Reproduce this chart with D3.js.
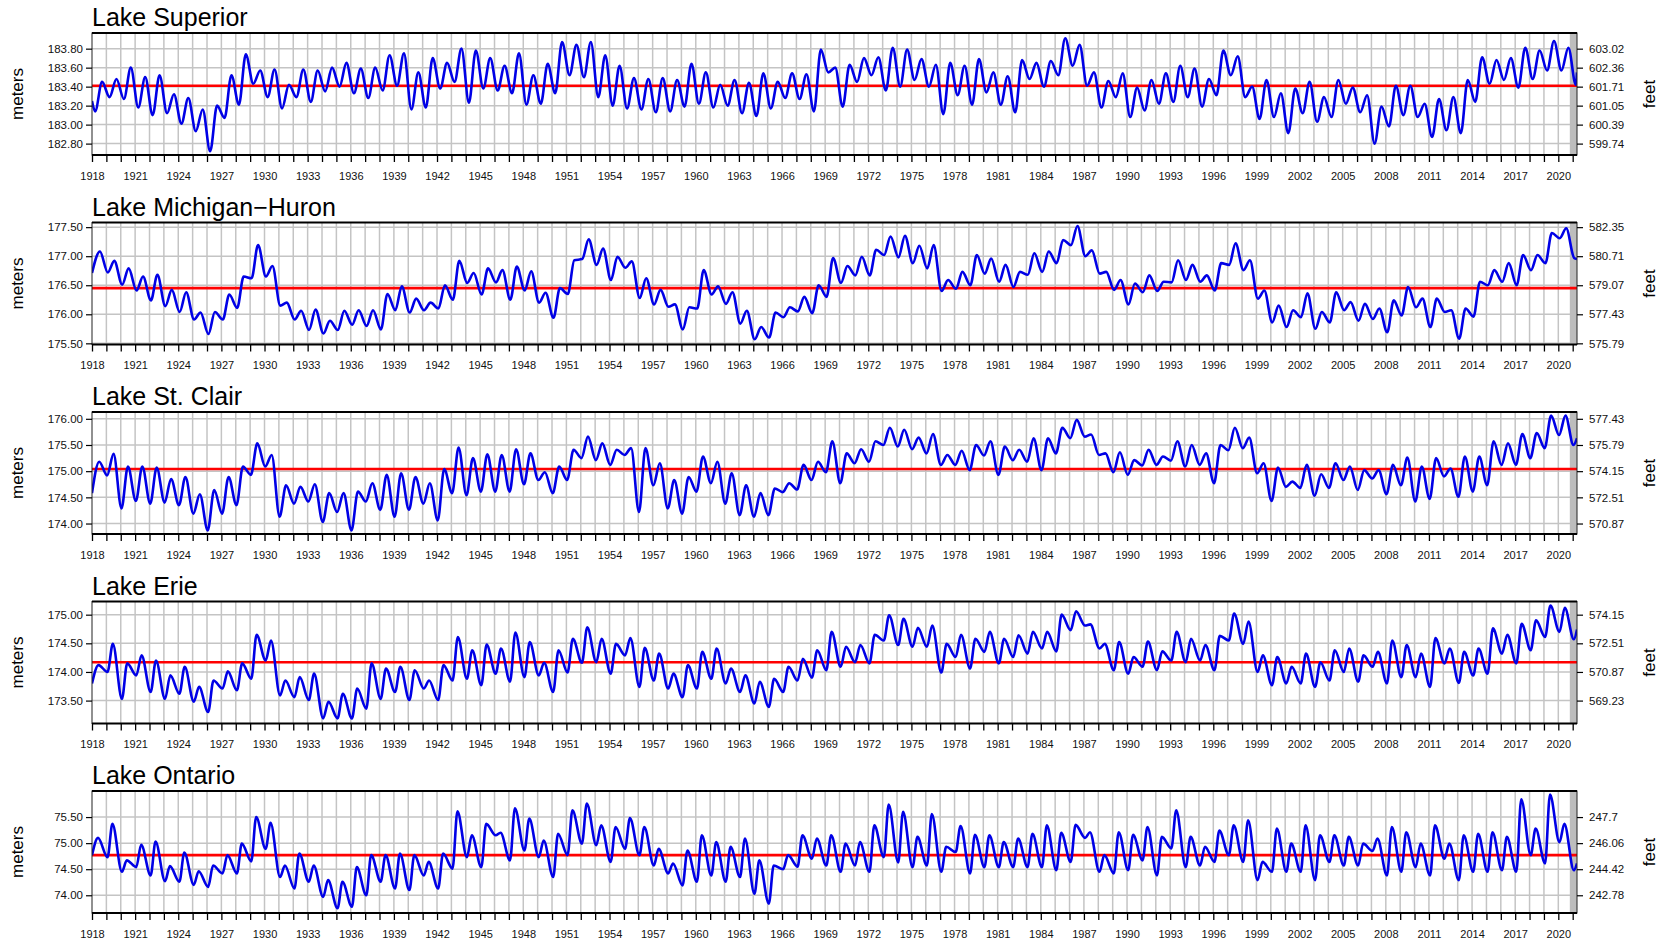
<!DOCTYPE html>
<html><head><meta charset="utf-8">
<script src="https://cdn.jsdelivr.net/npm/d3@7"></script>
<style>
html,body{margin:0;padding:0;background:#fff;}
svg{display:block;font-family:"Liberation Sans",Arial,Helvetica,sans-serif;}
</style></head><body>
<svg id="chart" width="1662" height="942"></svg>
<script>
// ---------- DATA (metres; one seasonal low and one seasonal high per year) ----------
const lakeNames = ["Lake Superior", "Lake Michigan\u2212Huron", "Lake St. Clair", "Lake Erie", "Lake Ontario"];
const yearLabels = [1918,1921,1924,1927,1930,1933,1936,1939,1942,1945,1948,1951,1954,1957,1960,1963,1966,1969,1972,1975,1978,1981,1984,1987,1990,1993,1996,1999,2002,2005,2008,2011,2014,2017,2020];
const longTermMean = [183.41, 176.45, 175.04, 174.17, 74.77];
const firstLevel = [183.25, null, null, null, null];
const lastLevel = [183.55, 176.95, 175.63, 174.74, 74.61];

const superiorLow = [183.14,183.29,183.27,183.18,183.10,183.12,183.01,182.93,182.72,183.07,
183.21,183.43,183.29,183.17,183.29,183.24,183.35,183.40,183.33,183.28,
183.36,183.41,183.16,183.18,183.38,183.45,183.23,183.38,183.36,183.33,
183.21,183.22,183.33,183.52,183.50,183.29,183.20,183.17,183.16,183.13,
183.14,183.19,183.22,183.18,183.20,183.12,183.09,183.17,183.28,183.27,
183.14,183.55,183.19,183.45,183.52,183.36,183.40,183.47,183.40,183.11,
183.31,183.21,183.34,183.21,183.13,183.48,183.40,183.52,183.62,183.41,
183.18,183.29,183.08,183.15,183.22,183.24,183.29,183.19,183.31,183.52,
183.29,183.06,183.08,182.91,183.12,183.03,183.08,183.22,183.13,182.80,
182.98,183.10,183.08,182.87,182.94,182.91,183.24,183.43,183.47,183.39,
183.48,183.57,183.57,183.42];
const superiorHigh = [183.45,183.48,183.60,183.50,183.52,183.32,183.28,183.16,183.20,183.52,
183.74,183.57,183.58,183.42,183.58,183.57,183.60,183.65,183.59,183.60,
183.73,183.75,183.55,183.70,183.65,183.80,183.78,183.70,183.62,183.75,
183.52,183.64,183.87,183.84,183.87,183.73,183.62,183.49,183.48,183.49,
183.47,183.64,183.55,183.42,183.47,183.44,183.54,183.45,183.54,183.53,
183.79,183.60,183.63,183.70,183.71,183.81,183.79,183.69,183.63,183.65,
183.62,183.69,183.55,183.51,183.68,183.65,183.67,183.91,183.84,183.55,
183.46,183.54,183.39,183.47,183.54,183.62,183.59,183.48,183.78,183.72,
183.40,183.47,183.33,183.38,183.45,183.29,183.47,183.39,183.31,183.19,
183.41,183.41,183.22,183.27,183.29,183.47,183.71,183.68,183.70,183.81,
183.78,183.88,183.81];

const michHuronLow = [176.71,176.72,176.51,176.41,176.24,176.14,176.04,175.91,175.66,175.91,
176.11,176.62,176.65,176.15,175.91,175.73,175.67,175.73,175.82,175.80,
175.74,176.07,176.03,176.07,176.10,176.25,176.54,176.34,176.55,176.25,
176.41,176.20,175.94,176.35,176.95,176.85,176.59,176.80,176.28,176.17,
176.13,175.74,176.10,176.34,176.18,175.84,175.57,175.60,175.95,176.05,
176.02,176.30,176.54,176.67,176.67,177.02,176.98,176.88,176.79,176.40,
176.44,176.50,176.70,176.56,176.47,176.68,176.73,176.88,177.19,177.00,
176.70,176.42,176.17,176.38,176.40,176.55,176.59,176.56,176.41,176.85,
176.76,176.27,175.86,175.78,175.95,175.75,175.86,176.07,175.89,175.92,
175.69,175.98,176.12,175.78,176.04,175.58,175.96,176.50,176.56,176.50,
176.76,176.88,177.31,176.97];
const michHuronHigh = [177.08,176.92,176.79,176.65,176.68,176.42,176.38,176.03,176.04,176.34,
176.65,177.19,176.83,176.20,176.06,176.08,175.89,176.06,176.07,176.07,
176.35,176.48,176.27,176.20,176.50,176.92,176.71,176.79,176.76,176.82,
176.74,176.37,176.45,176.93,177.29,177.13,176.99,176.91,176.62,176.42,
176.17,176.12,176.76,176.48,176.38,176.06,175.78,176.03,176.12,176.30,
176.50,176.97,176.83,176.99,177.11,177.34,177.35,177.18,177.19,176.59,
176.73,177.02,176.96,176.85,176.73,177.05,177.08,177.28,177.52,177.10,
176.73,176.59,176.53,176.67,176.56,176.93,176.85,176.67,176.88,177.22,
176.93,176.41,176.15,176.07,176.36,176.04,176.38,176.21,176.18,176.10,
176.24,176.47,176.27,176.27,176.07,176.10,176.56,176.76,176.88,177.02,
177.02,177.40,177.48];

const stClairLow = [174.58,174.92,174.29,174.43,174.38,174.40,174.35,174.19,173.87,174.19,
174.35,174.93,175.09,174.13,174.38,174.42,174.03,174.22,173.87,174.42,
174.26,174.13,174.26,174.38,174.06,174.58,174.54,174.61,174.61,174.61,
174.75,174.83,174.58,174.83,175.25,175.21,175.12,175.31,174.22,174.73,
174.29,174.19,174.61,174.77,174.38,174.16,174.13,174.16,174.60,174.65,
174.83,174.98,174.77,175.15,175.18,175.50,175.47,175.42,175.34,175.12,
175.12,175.02,175.30,174.93,175.21,175.18,175.02,175.34,175.63,175.66,
175.31,174.98,174.93,175.11,175.12,175.20,175.09,175.12,174.77,175.40,
175.44,174.96,174.43,174.70,174.68,174.53,174.68,174.83,174.64,174.86,
174.56,174.73,174.42,174.47,174.90,174.51,174.61,174.73,175.12,175.12,
175.25,175.44,175.69,175.50];
const stClairHigh = [175.18,175.33,175.09,175.09,175.07,174.85,174.89,174.56,174.64,174.89,
175.09,175.53,175.31,174.73,174.70,174.75,174.58,174.58,174.61,174.77,
174.93,174.96,174.89,174.77,175.04,175.45,175.25,175.32,175.31,175.42,
175.34,174.98,175.09,175.41,175.66,175.53,175.41,175.44,175.44,175.15,
174.83,174.89,175.28,175.18,174.96,174.73,174.58,174.67,174.77,175.12,
175.18,175.57,175.34,175.42,175.57,175.83,175.79,175.64,175.71,175.31,
175.39,175.50,175.57,175.47,175.41,175.63,175.63,175.83,175.98,175.70,
175.34,175.36,175.21,175.41,175.28,175.57,175.50,175.34,175.50,175.83,
175.64,175.15,175.07,174.80,175.12,174.94,175.15,175.09,175.02,175.02,
175.12,175.26,175.09,175.25,175.05,175.28,175.28,175.57,175.53,175.71,
175.73,176.06,176.06];

const erieLow = [173.80,174.00,173.53,173.94,173.65,173.53,173.62,173.48,173.30,173.71,
173.68,173.88,174.20,173.59,173.56,173.51,173.19,173.19,173.19,173.36,
173.53,173.65,173.51,173.71,173.51,173.85,173.88,173.77,173.97,173.83,
173.91,173.94,173.65,173.99,174.16,174.17,173.97,174.29,173.74,173.85,
173.71,173.56,173.71,173.88,173.80,173.65,173.45,173.39,173.65,173.85,
173.90,174.03,174.09,174.17,174.15,174.55,174.47,174.44,174.44,173.99,
174.26,174.06,174.35,174.15,174.26,174.32,174.41,174.36,174.73,174.81,
174.41,174.03,173.97,174.09,174.03,174.20,174.17,174.20,174.03,174.55,
174.49,174.00,173.77,173.80,173.80,173.74,173.85,174.00,173.83,174.09,
173.80,173.91,173.91,173.74,174.15,173.81,173.94,173.97,174.32,174.15,
174.38,174.61,174.70,174.57];
const erieHigh = [174.12,174.49,174.15,174.29,174.20,173.94,174.09,173.74,173.85,174.01,
174.15,174.65,174.55,173.85,173.91,173.97,173.48,173.62,173.71,174.15,
174.06,174.09,174.03,173.85,174.12,174.61,174.38,174.48,174.41,174.69,
174.52,174.16,174.38,174.58,174.78,174.58,174.49,174.59,174.42,174.32,
173.97,174.12,174.35,174.41,174.06,173.94,173.83,173.88,174.09,174.23,
174.38,174.70,174.44,174.47,174.65,174.99,174.93,174.77,174.81,174.49,
174.65,174.58,174.70,174.58,174.64,174.70,174.70,175.00,175.06,174.83,
174.49,174.52,174.26,174.53,174.36,174.70,174.58,174.47,174.63,175.02,
174.88,174.29,174.26,174.09,174.32,174.17,174.38,174.41,174.29,174.35,
174.55,174.47,174.32,174.59,174.41,174.35,174.41,174.76,174.65,174.84,
174.90,175.16,175.12];

const ontarioLow = [74.77,74.73,74.45,74.54,74.38,74.27,74.26,74.20,74.16,74.42,
74.42,74.65,74.89,74.35,74.13,74.26,73.97,73.75,73.78,74.00,
74.26,74.13,74.10,74.38,74.13,74.51,74.73,74.54,75.15,74.67,
74.86,74.73,74.35,74.77,74.99,74.96,74.64,74.89,74.77,74.57,
74.42,74.19,74.26,74.38,74.26,74.35,74.03,73.84,74.50,74.55,
74.70,74.57,74.45,74.57,74.45,74.73,74.63,74.54,74.57,74.45,
74.83,74.42,74.54,74.54,74.54,74.54,74.54,74.48,74.64,75.10,
74.45,74.42,74.48,74.67,74.38,74.90,74.54,74.57,74.64,74.77,
74.64,74.29,74.45,74.45,74.45,74.29,74.64,74.57,74.57,74.85,
74.38,74.45,74.54,74.38,74.70,74.29,74.45,74.45,74.48,74.45,
74.77,74.61,75.02,74.48];
const ontarioHigh = [75.10,75.37,74.67,74.97,75.03,74.56,74.82,74.46,74.57,74.77,
74.99,75.50,75.39,74.57,74.80,74.57,74.29,74.26,74.54,74.77,
74.77,74.80,74.77,74.64,74.80,75.61,75.15,75.37,75.20,75.67,
75.47,75.05,75.18,75.63,75.76,75.34,75.31,75.48,75.31,74.89,
74.61,74.86,75.15,75.02,74.93,75.09,74.67,74.57,74.77,75.15,
75.09,75.15,74.99,75.02,75.34,75.74,75.60,75.12,75.56,74.93,
75.33,75.16,75.15,75.02,75.09,75.18,75.34,75.20,75.35,75.21,
74.77,75.21,75.16,75.31,75.12,75.63,75.12,74.93,75.24,75.34,
75.44,74.64,75.28,74.99,75.34,75.15,75.15,75.12,74.99,75.09,
75.31,75.21,74.99,75.34,74.99,75.15,75.18,75.21,75.12,75.84,
75.28,75.93,75.37];

// axis ticks (metres on the left, matching feet labels on the right)
const superiorTicks = [182.8,183.0,183.2,183.4,183.6,183.8];
const superiorLeftLabels = ["182.80","183.00","183.20","183.40","183.60","183.80"];
const superiorRightLabels = ["599.74","600.39","601.05","601.71","602.36","603.02"];
const michHuronTicks = [175.5,176.0,176.5,177.0,177.5];
const michHuronLeftLabels = ["175.50","176.00","176.50","177.00","177.50"];
const michHuronRightLabels = ["575.79","577.43","579.07","580.71","582.35"];
const stClairTicks = [174.0,174.5,175.0,175.5,176.0];
const stClairLeftLabels = ["174.00","174.50","175.00","175.50","176.00"];
const stClairRightLabels = ["570.87","572.51","574.15","575.79","577.43"];
const erieTicks = [173.5,174.0,174.5,175.0];
const erieLeftLabels = ["173.50","174.00","174.50","175.00"];
const erieRightLabels = ["569.23","570.87","572.51","574.15"];
const ontarioTicks = [74.0,74.5,75.0,75.5];
const ontarioLeftLabels = ["74.00","74.50","75.00","75.50"];
const ontarioRightLabels = ["242.78","244.42","246.06","247.7"];

const yDomains = [[182.68,183.965],[175.48,177.58],[173.80,176.13],[173.10,175.23],[73.66,76.0]];

// ---------- LAYOUT ----------
const lakes = [
  {low:superiorLow, high:superiorHigh, ticks:superiorTicks, left:superiorLeftLabels, right:superiorRightLabels, fLow:0.22, fHigh:0.70},
  {low:michHuronLow, high:michHuronHigh, ticks:michHuronTicks, left:michHuronLeftLabels, right:michHuronRightLabels, fLow:0.10, fHigh:0.55},
  {low:stClairLow, high:stClairHigh, ticks:stClairTicks, left:stClairLeftLabels, right:stClairRightLabels, fLow:0.05, fHigh:0.50},
  {low:erieLow, high:erieHigh, ticks:erieTicks, left:erieLeftLabels, right:erieRightLabels, fLow:0.08, fHigh:0.45},
  {low:ontarioLow, high:ontarioHigh, ticks:ontarioTicks, left:ontarioLeftLabels, right:ontarioRightLabels, fLow:0.08, fHigh:0.42}
];

const plotL = 92, plotR = 1577, panelTop0 = 33, panelStep = 189.5, panelH = 122;
const xStart = 1918, xEnd = 2021.3, shadeStart = 2020.8;
const x = d3.scaleLinear().domain([xStart, xEnd]).range([plotL, plotR]);
const gridColor = "#c4c4c4";
const svg = d3.select("#chart");

function buildSeries(i){
  const lk = lakes[i], pts = [];
  if (firstLevel[i] != null) pts.push([xStart, firstLevel[i]]);
  lk.low.forEach((v, k) => {
    const yr = xStart + k;
    const t = (k === 0 && firstLevel[i] == null) ? yr : yr + lk.fLow;
    pts.push([t, v]);
    if (k < lk.high.length) pts.push([yr + lk.fHigh, lk.high[k]]);
  });
  pts.push([xEnd, lastLevel[i]]);
  return pts;
}

lakes.forEach((lk, i) => {
  const top = panelTop0 + i * panelStep, bottom = top + panelH;
  const y = d3.scaleLinear().domain(yDomains[i]).range([bottom, top]);
  const g = svg.append("g");

  const clipId = "clip" + i;
  svg.append("clipPath").attr("id", clipId).append("rect")
    .attr("x", plotL).attr("y", top).attr("width", plotR - plotL).attr("height", panelH);

  // vertical grid (every year)
  g.append("g").selectAll("line").data(d3.range(1919, 2022)).join("line")
    .attr("x1", d => x(d)).attr("x2", d => x(d)).attr("y1", top).attr("y2", bottom)
    .attr("stroke", gridColor).attr("stroke-width", 1.5);
  // horizontal grid at ticks
  g.append("g").selectAll("line").data(lk.ticks).join("line")
    .attr("x1", plotL).attr("x2", plotR).attr("y1", d => y(d)).attr("y2", d => y(d))
    .attr("stroke", gridColor).attr("stroke-width", 1.5);

  // shaded recent period
  g.append("rect").attr("x", x(shadeStart)).attr("y", top)
    .attr("width", x(xEnd) - x(shadeStart)).attr("height", panelH).attr("fill", "#bdbdbd");

  // long-term mean
  g.append("line").attr("x1", plotL).attr("x2", plotR)
    .attr("y1", y(longTermMean[i])).attr("y2", y(longTermMean[i]))
    .attr("stroke", "#ff0000").attr("stroke-width", 2.6);

  // water level
  const line = d3.line().x(d => x(d[0])).y(d => y(d[1])).curve(d3.curveMonotoneX);
  g.append("path").datum(buildSeries(i)).attr("d", line)
    .attr("clip-path", `url(#${clipId})`)
    .attr("fill", "none").attr("stroke", "#0000e6").attr("stroke-width", 2.6)
    .attr("stroke-linejoin", "round");

  // frame
  g.append("rect").attr("x", plotL).attr("y", top).attr("width", plotR - plotL).attr("height", panelH)
    .attr("fill", "none").attr("stroke", "#222").attr("stroke-width", 1);
  g.append("line").attr("x1", plotL).attr("x2", plotR).attr("y1", top).attr("y2", top)
    .attr("stroke", "#000").attr("stroke-width", 2);
  g.append("line").attr("x1", plotL).attr("x2", plotR).attr("y1", bottom).attr("y2", bottom)
    .attr("stroke", "#000").attr("stroke-width", 2);

  // bottom axis: tick every year, label every third year
  const xAxis = d3.axisBottom(x).tickValues(d3.range(1918, 2022)).tickSize(7).tickPadding(10)
    .tickFormat(d => yearLabels.includes(d) ? String(d) : "");
  const gx = g.append("g").attr("transform", `translate(0,${bottom})`).call(xAxis);
  gx.select(".domain").remove();
  gx.selectAll(".tick line").attr("stroke", "#000").attr("stroke-width", 1.3);
  gx.selectAll("text").attr("font-size", 11).attr("fill", "#111")
    .attr("font-family", '"Liberation Sans", Arial, sans-serif');

  // left axis
  const yAxisL = d3.axisLeft(y).tickValues(lk.ticks).tickSize(6).tickPadding(3)
    .tickFormat((d, k) => lk.left[k]);
  const gl = g.append("g").attr("transform", `translate(${plotL},0)`).call(yAxisL);
  gl.select(".domain").remove();
  gl.selectAll(".tick line").attr("stroke", "#000").attr("stroke-width", 1.2);
  gl.selectAll("text").attr("font-size", 11.5).attr("fill", "#111")
    .attr("font-family", '"Liberation Sans", Arial, sans-serif');

  // right axis (feet)
  const yAxisR = d3.axisRight(y).tickValues(lk.ticks).tickSize(6).tickPadding(6)
    .tickFormat((d, k) => lk.right[k]);
  const gr = g.append("g").attr("transform", `translate(${plotR},0)`).call(yAxisR);
  gr.select(".domain").remove();
  gr.selectAll(".tick line").attr("stroke", "#000").attr("stroke-width", 1.2);
  gr.selectAll("text").attr("font-size", 11.5).attr("fill", "#111")
    .attr("font-family", '"Liberation Sans", Arial, sans-serif');

  // titles and unit labels
  g.append("text").attr("x", plotL).attr("y", top - 7).attr("font-size", 25).attr("fill", "#000")
    .text(lakeNames[i]);
  g.append("text").attr("transform", `translate(23,${top + panelH / 2}) rotate(-90)`)
    .attr("text-anchor", "middle").attr("font-size", 17).attr("fill", "#000").text("meters");
  g.append("text").attr("transform", `translate(1655,${top + panelH / 2}) rotate(-90)`)
    .attr("text-anchor", "middle").attr("font-size", 17).attr("fill", "#000").text("feet");
});
</script>
</body></html>
